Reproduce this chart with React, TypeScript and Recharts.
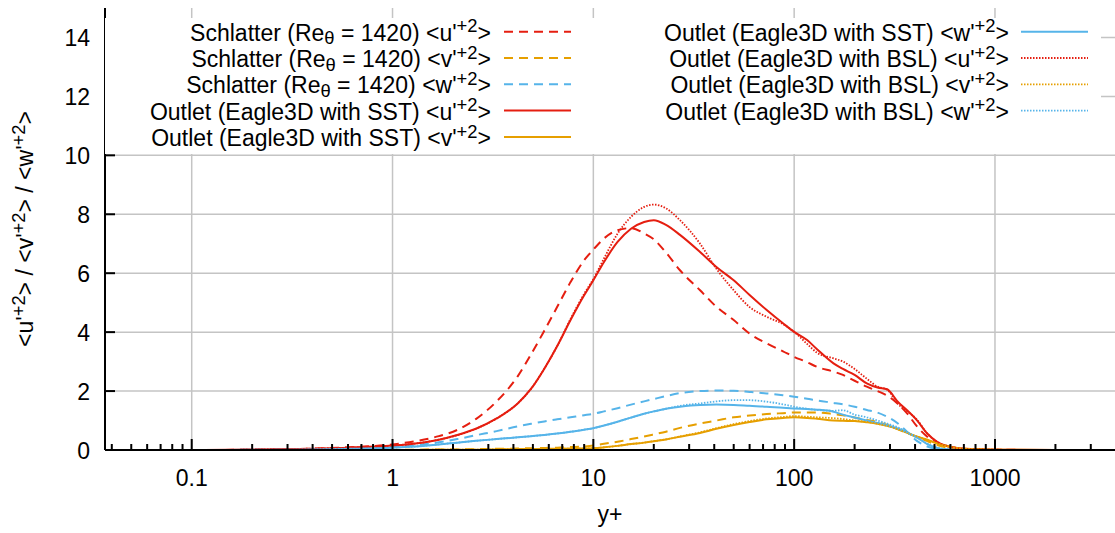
import React from 'react';
import { LineChart, Line, XAxis, YAxis, CartesianGrid, Legend } from 'recharts';

// y+ sample positions shared by every profile
const yPlus = [
  0.037, 0.1, 0.3, 0.6, 1, 1.3, 1.7, 2.1, 2.6, 3.3,
  4.2, 4.9, 5.7, 6.6, 7.7, 9, 10, 11.3, 13.2, 15.4,
  17.9, 20, 23, 27, 34, 41, 50, 60, 73, 88,
  100, 116, 130, 157, 175, 200, 230, 260, 290, 330,
  365, 410, 460, 515, 600, 700, 1000, 2000, 3960,
];

const schlatterU = [
  0, 0, 0.03, 0.09, 0.19, 0.3, 0.47, 0.68, 1.05, 1.65,
  2.5, 3.25, 4.05, 4.85, 5.7, 6.44, 6.8, 7.18, 7.46, 7.53,
  7.35, 7.15, 6.7, 6.1, 5.42, 4.86, 4.41, 3.95, 3.62, 3.35,
  3.16, 2.98, 2.82, 2.66, 2.55, 2.35, 2.15, 2.0, 1.85, 1.55,
  1.24, 0.79, 0.45, 0.23, 0.11, 0.04, 0.01, 0, 0,
];
const schlatterV = [
  0, 0, 0, 0, 0.01, 0.01, 0.02, 0.02, 0.03, 0.04,
  0.05, 0.06, 0.07, 0.08, 0.1, 0.12, 0.15, 0.21, 0.28, 0.37,
  0.46, 0.53, 0.62, 0.75, 0.9, 1.0, 1.11, 1.17, 1.22, 1.25,
  1.27, 1.27, 1.27, 1.22, 1.18, 1.1, 1.02, 0.95, 0.86, 0.7,
  0.57, 0.44, 0.3, 0.17, 0.06, 0.02, 0, 0, 0,
];
const schlatterW = [
  0, 0, 0.02, 0.05, 0.11, 0.16, 0.26, 0.37, 0.5, 0.64,
  0.8, 0.89, 0.97, 1.04, 1.11, 1.18, 1.23, 1.31, 1.42, 1.54,
  1.65, 1.73, 1.83, 1.93, 2.0, 2.02, 2.01, 1.97, 1.92, 1.86,
  1.81, 1.74, 1.68, 1.6, 1.55, 1.47, 1.36, 1.27, 1.13, 0.89,
  0.62, 0.3, 0.12, 0.04, 0.01, 0, 0, 0, 0,
];
const sstU = [
  0, 0, 0.03, 0.08, 0.15, 0.22, 0.35, 0.51, 0.72, 1.07,
  1.58, 2.08, 2.76, 3.52, 4.41, 5.25, 5.76, 6.38, 7.06, 7.51,
  7.74, 7.8, 7.64, 7.3, 6.72, 6.21, 5.76, 5.26, 4.75, 4.3,
  4.01, 3.73, 3.42, 2.94, 2.75, 2.55, 2.26, 2.12, 2.06, 1.62,
  1.35, 1.0, 0.56, 0.28, 0.11, 0.04, 0.01, 0, 0,
];
const sstV = [
  0, 0, 0, 0, 0, 0, 0.01, 0.01, 0.01, 0.02,
  0.03, 0.03, 0.04, 0.04, 0.05, 0.05, 0.06, 0.09, 0.14, 0.2,
  0.25, 0.3, 0.36, 0.45, 0.58, 0.72, 0.85, 0.95, 1.04, 1.09,
  1.11, 1.09, 1.06, 1.0, 0.99, 0.98, 0.94, 0.89, 0.82, 0.7,
  0.58, 0.45, 0.35, 0.22, 0.11, 0.04, 0.01, 0, 0,
];
const sstW = [
  0, 0, 0.01, 0.04, 0.08, 0.12, 0.19, 0.25, 0.31, 0.37,
  0.43, 0.47, 0.51, 0.56, 0.62, 0.69, 0.74, 0.83, 0.96, 1.1,
  1.23, 1.31, 1.4, 1.47, 1.53, 1.54, 1.53, 1.5, 1.47, 1.43,
  1.41, 1.39, 1.37, 1.3, 1.2, 1.1, 1.0, 0.92, 0.84, 0.72,
  0.6, 0.42, 0.2, 0.07, 0.01, 0, 0, 0, 0,
];
const bslU = [
  0, 0, 0.03, 0.08, 0.15, 0.22, 0.35, 0.5, 0.72, 1.07,
  1.58, 2.08, 2.76, 3.52, 4.45, 5.3, 5.8, 6.5, 7.34, 7.91,
  8.25, 8.33, 8.2, 7.8, 7.0, 6.15, 5.42, 4.85, 4.52, 4.27,
  4.01, 3.6, 3.3, 3.11, 3.0, 2.75, 2.42, 2.15, 2.05, 1.55,
  1.32, 1.02, 0.56, 0.28, 0.11, 0.04, 0.01, 0, 0,
];
const bslV = [
  0, 0, 0, 0, 0, 0, 0.01, 0.01, 0.01, 0.02,
  0.03, 0.03, 0.04, 0.04, 0.05, 0.05, 0.06, 0.09, 0.14, 0.2,
  0.25, 0.3, 0.36, 0.46, 0.6, 0.74, 0.88, 0.98, 1.07, 1.12,
  1.15, 1.13, 1.11, 1.08, 1.05, 1.0, 0.95, 0.89, 0.82, 0.7,
  0.58, 0.45, 0.35, 0.22, 0.11, 0.04, 0.01, 0, 0,
];
const bslW = [
  0, 0, 0.01, 0.04, 0.08, 0.12, 0.19, 0.25, 0.31, 0.37,
  0.43, 0.47, 0.51, 0.56, 0.62, 0.69, 0.74, 0.83, 0.96, 1.1,
  1.23, 1.31, 1.4, 1.5, 1.58, 1.65, 1.69, 1.69, 1.64, 1.55,
  1.47, 1.4, 1.36, 1.33, 1.35, 1.2, 1.11, 1.0, 0.9, 0.76,
  0.6, 0.42, 0.22, 0.08, 0.02, 0, 0, 0, 0,
];

const majorX = [0.1, 1, 10, 100, 1000];
const minorX = [
  0.04, 0.05, 0.06, 0.07, 0.08, 0.09,
  0.2, 0.3, 0.4, 0.5, 0.6, 0.7, 0.8, 0.9,
  2, 3, 4, 5, 6, 7, 8, 9,
  20, 30, 40, 50, 60, 70, 80, 90,
  200, 300, 400, 500, 600, 700, 800, 900,
  2000, 3000,
];
const yTicks = [0, 2, 4, 6, 8, 10, 12, 14];

const RED = '#e51e10';
const ORANGE = '#e69f00';
const BLUE = '#56b4e9';
const DASHED = '9 6';
const DOTTED = '1.5 1.5';
const FONT = '"Liberation Sans", Arial, Helvetica, sans-serif';
const FS = 23;

// gnuplot-style enhanced text: _x = subscript char, ^{...} = superscript
const series = [
  { key: 'schlatterU', values: schlatterU, color: RED, dash: DASHED, width: 2, label: "Schlatter (Re_θ = 1420) <u'^{+2}>" },
  { key: 'schlatterV', values: schlatterV, color: ORANGE, dash: DASHED, width: 2, label: "Schlatter (Re_θ = 1420) <v'^{+2}>" },
  { key: 'schlatterW', values: schlatterW, color: BLUE, dash: DASHED, width: 2, label: "Schlatter (Re_θ = 1420) <w'^{+2}>" },
  { key: 'sstU', values: sstU, color: RED, dash: undefined, width: 2, label: "Outlet (Eagle3D with SST) <u'^{+2}>" },
  { key: 'sstV', values: sstV, color: ORANGE, dash: undefined, width: 2, label: "Outlet (Eagle3D with SST) <v'^{+2}>" },
  { key: 'sstW', values: sstW, color: BLUE, dash: undefined, width: 2, label: "Outlet (Eagle3D with SST) <w'^{+2}>" },
  { key: 'bslU', values: bslU, color: RED, dash: DOTTED, width: 1.8, label: "Outlet (Eagle3D with BSL) <u'^{+2}>" },
  { key: 'bslV', values: bslV, color: ORANGE, dash: DOTTED, width: 1.8, label: "Outlet (Eagle3D with BSL) <v'^{+2}>" },
  { key: 'bslW', values: bslW, color: BLUE, dash: DOTTED, width: 1.8, label: "Outlet (Eagle3D with BSL) <w'^{+2}>" },
];

const data = yPlus.map((y, i) => {
  const row: Record<string, number> = { yPlus: y };
  series.forEach((s) => { row[s.key] = s.values[i]; });
  return row;
});

function enhanced(text: string, size: number) {
  const parts = text.split(/(\^\{[^}]*\}|_\S)/).filter((p) => p !== '');
  const out: React.ReactNode[] = [];
  let shift = 0;
  parts.forEach((p, i) => {
    if (p.startsWith('^{')) {
      out.push(<tspan key={i} dy={-0.36 * size - shift} fontSize={size * 0.8}>{p.slice(2, -1)}</tspan>);
      shift = -0.36 * size;
    } else if (p.startsWith('_')) {
      out.push(<tspan key={i} dy={0.16 * size - shift} fontSize={size * 0.8}>{p.slice(1)}</tspan>);
      shift = 0.16 * size;
    } else {
      out.push(<tspan key={i} dy={-shift}>{p}</tspan>);
      shift = 0;
    }
  });
  return out;
}

const XTick = (props: any) => {
  const { x, y, payload } = props;
  const major = majorX.includes(payload.value);
  return (
    <g>
      <line x1={x} x2={x} y1={y} y2={y - (major ? 11 : 6)} stroke="#000" strokeWidth={2} />
      {major && (
        <text x={x} y={y + 36} textAnchor="middle" fontFamily={FONT} fontSize={FS} fill="#000">
          {payload.value}
        </text>
      )}
    </g>
  );
};

const YTick = (props: any) => {
  const { x, y, payload } = props;
  return (
    <g>
      <line x1={x} x2={x + 10} y1={y} y2={y} stroke="#000" strokeWidth={2} />
      <text x={x - 15} y={y + 9} textAnchor="end" fontFamily={FONT} fontSize={FS} fill="#000">
        {payload.value}
      </text>
    </g>
  );
};

const YTitle = (props: any) => {
  const vb = props.viewBox || { x: 0, y: 8, width: 105, height: 442 };
  const cx = vb.x + 33;
  const cy = vb.y + vb.height / 2;
  return (
    <text transform={`translate(${cx},${cy}) rotate(-90)`} textAnchor="middle" fontFamily={FONT} fontSize={FS} fill="#000">
      {enhanced("<u'^{+2}> / <v'^{+2}> / <w'^{+2}>", FS)}
    </text>
  );
};

const XTitle = (props: any) => {
  const vb = props.viewBox || { x: 105, y: 450, width: 1010, height: 83 };
  return (
    <text x={vb.x + vb.width / 2} y={vb.y + 72} textAnchor="middle" fontFamily={FONT} fontSize={FS} fill="#000">
      y+
    </text>
  );
};

// key box: two columns, text right-aligned against a line sample
const KEY_W = 996;
const KEY_H = 136;
const renderKey = () => {
  const cols = [
    { textRight: 386, sample: 399, items: series.slice(0, 5) },
    { textRight: 904, sample: 916, items: series.slice(5) },
  ];
  return (
    <svg width={KEY_W} height={KEY_H} style={{ display: 'block', overflow: 'visible' }}>
      {cols.map((c, ci) =>
        c.items.map((s, ri) => {
          const base = 22.7 + ri * 26.3;
          return (
            <g key={`${ci}-${ri}`}>
              <text x={c.textRight} y={base} textAnchor="end" fontFamily={FONT} fontSize={FS} fill="#000">
                {enhanced(s.label, FS)}
              </text>
              <line
                x1={c.sample}
                x2={c.sample + 67}
                y1={base - 9}
                y2={base - 9}
                stroke={s.color}
                strokeWidth={s.width}
                strokeDasharray={s.dash}
              />
            </g>
          );
        })
      )}
    </svg>
  );
};

export default function App() {
  return (
    <div style={{ position: 'absolute', left: 0, top: 0, background: '#fff' }}>
      <LineChart width={1115} height={533} data={data} margin={{ top: 8, right: 0, bottom: 0, left: 0 }}>
        <CartesianGrid
          stroke="#c4c4c4"
          strokeWidth={1.5}
          verticalValues={majorX}
          horizontalValues={[2, 4, 6, 8, 10, 12, 14]}
        />
        <XAxis
          dataKey="yPlus"
          type="number"
          scale="log"
          domain={[0.037, 3960]}
          allowDataOverflow
          ticks={[...majorX, ...minorX].sort((a, b) => a - b)}
          interval={0}
          height={83}
          tickSize={0}
          tickMargin={0}
          tickLine={false}
          tick={<XTick />}
          axisLine={{ stroke: '#000', strokeWidth: 2 }}
          label={{ content: <XTitle /> }}
        />
        <YAxis
          type="number"
          domain={[0, 15]}
          ticks={yTicks}
          interval={0}
          width={105}
          tickSize={0}
          tickMargin={0}
          tickLine={false}
          tick={<YTick />}
          axisLine={{ stroke: '#000', strokeWidth: 2 }}
          label={{ content: <YTitle /> }}
        />
        <Legend
          content={renderKey}
          layout="vertical"
          align="center"
          verticalAlign="middle"
          width={KEY_W}
          height={KEY_H}
          wrapperStyle={{ left: 105, top: 18, width: KEY_W, height: KEY_H, background: '#fff' }}
        />
        {series.map((s) => (
          <Line
            key={s.key}
            dataKey={s.key}
            type="monotone"
            stroke={s.color}
            strokeWidth={s.width}
            strokeDasharray={s.dash}
            dot={false}
            activeDot={false}
            isAnimationActive={false}
          />
        ))}
      </LineChart>
    </div>
  );
}
